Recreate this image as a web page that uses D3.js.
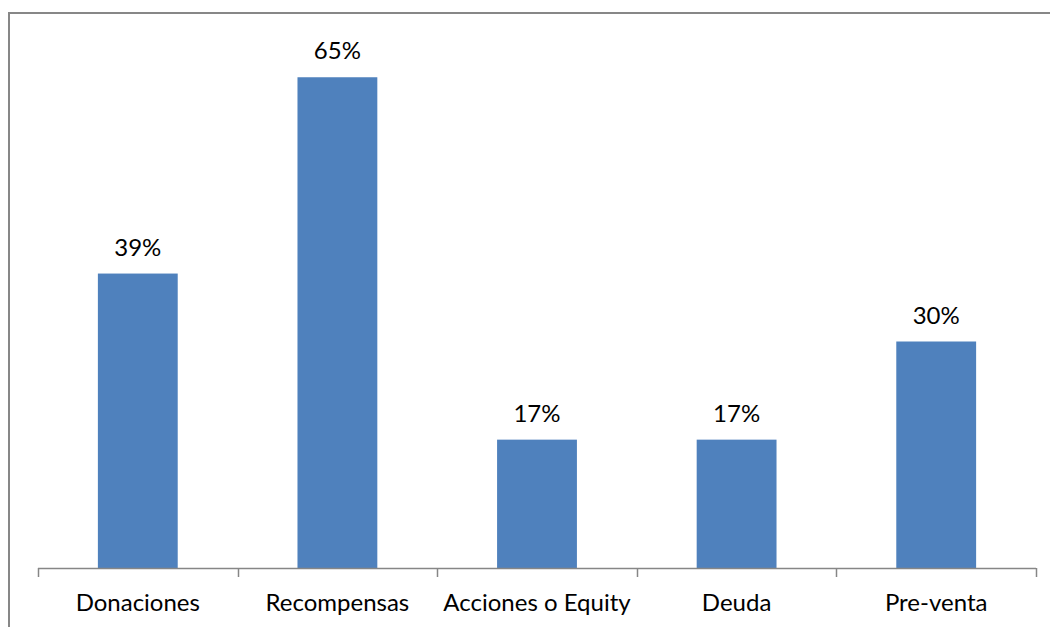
<!DOCTYPE html>
<html>
<head>
<meta charset="utf-8">
<script src="https://cdn.jsdelivr.net/npm/d3@7"></script>
<style>
  html, body { margin: 0; padding: 0; background: #fff; }
  svg { display: block; }
  text { font-family: Lato, "Open Sans", sans-serif; fill: #000; }
</style>
</head>
<body>
<svg id="chart" width="1050" height="627"></svg>
<script>
// Modalidades de financiación (porcentaje de plataformas)
const categories = ["Donaciones", "Recompensas", "Acciones o Equity", "Deuda", "Pre-venta"];
const values = [39, 65, 17, 17, 30];
const valueLabels = ["39%", "65%", "17%", "17%", "30%"];

const W = 1050, H = 627;
const plot = { left: 38, right: 1036, top: 39.5, bottom: 568 };

const svg = d3.select("#chart");

// chart frame (top and left edges)
svg.append("path")
  .attr("d", `M9,${H} V13 H${W}`)
  .attr("fill", "none")
  .attr("stroke", "#878787")
  .attr("stroke-width", 2);

const x = d3.scaleBand()
  .domain(categories)
  .range([plot.left, plot.right])
  .paddingInner(0.6)
  .paddingOuter(0.3);

const y = d3.scaleLinear()
  .domain([0, 70])
  .range([plot.bottom, plot.top]);

// bars
svg.append("g")
  .selectAll("rect")
  .data(values)
  .join("rect")
  .attr("x", (d, i) => x(categories[i]))
  .attr("y", d => y(d))
  .attr("width", x.bandwidth())
  .attr("height", d => y(0) - y(d))
  .attr("fill", "#4F81BD");

// value labels
svg.append("g")
  .selectAll("text")
  .data(values)
  .join("text")
  .attr("x", (d, i) => x(categories[i]) + x.bandwidth() / 2)
  .attr("y", d => y(d) - 18)
  .attr("text-anchor", "middle")
  .attr("font-size", 24)
  .text((d, i) => valueLabels[i]);

// category axis with tick marks between categories
const boundaries = d3.range(categories.length + 1).map(i => plot.left + i * (plot.right - plot.left) / categories.length);
const axisG = svg.append("g");
axisG.append("line")
  .attr("x1", plot.left).attr("x2", plot.right)
  .attr("y1", plot.bottom + 0.5).attr("y2", plot.bottom + 0.5)
  .attr("stroke", "#868686").attr("stroke-width", 1.5);
axisG.selectAll("line.tick")
  .data(boundaries)
  .join("line")
  .attr("class", "tick")
  .attr("x1", d => Math.round(d) + 0.5).attr("x2", d => Math.round(d) + 0.5)
  .attr("y1", plot.bottom).attr("y2", plot.bottom + 9)
  .attr("stroke", "#868686").attr("stroke-width", 1.5);
axisG.selectAll("text")
  .data(categories)
  .join("text")
  .attr("x", d => x(d) + x.bandwidth() / 2)
  .attr("y", 611)
  .attr("text-anchor", "middle")
  .attr("font-size", 24)
  .text(d => d);
</script>
</body>
</html>
